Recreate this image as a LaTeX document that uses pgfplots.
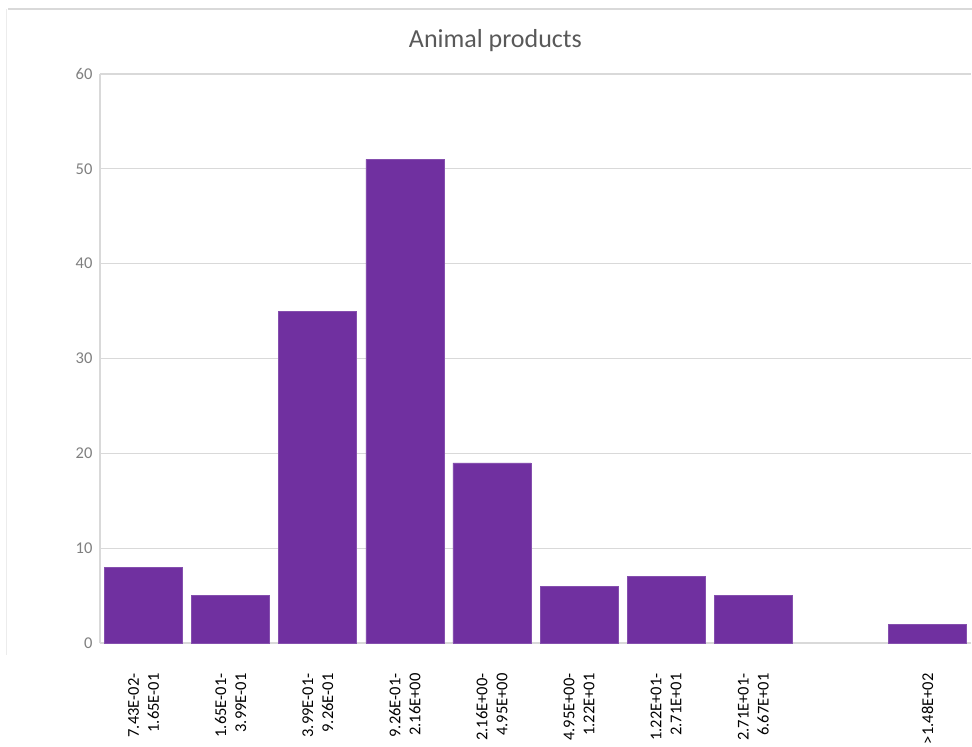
\documentclass[border=0pt]{standalone}
\usepackage{pgfplots}
\pgfplotsset{compat=1.18}
\usepackage{fontspec}
\setmainfont{Carlito}
\definecolor{barpurple}{HTML}{7030A0}
\definecolor{gridgray}{HTML}{D9D9D9}
\definecolor{ticktext}{HTML}{7F7F7F}
\definecolor{titletext}{HTML}{595959}
\begin{document}
\begin{tikzpicture}[x=1pt,y=1pt]
\useasboundingbox (0,0) rectangle (972,747);
% chart area frame (top and left edges)
\draw[gridgray, line width=1.2pt] (8,738) -- (972,738);
\draw[gridgray!50, line width=1pt] (6,738) -- (6,92);
\begin{axis}[
  at={(100pt,104pt)}, anchor=south west,
  scale only axis, width=871pt, height=569pt,
  xmin=-0.5, xmax=9.5, ymin=0, ymax=60,
  ytick={0,10,...,60},
  xtick={0,...,9},
  xticklabels={{7.43E-02-\\1.65E-01},{1.65E-01-\\3.99E-01},{3.99E-01-\\9.26E-01},{9.26E-01-\\2.16E+00},{2.16E+00-\\4.95E+00},{4.95E+00-\\1.22E+01},{1.22E+01-\\2.71E+01},{2.71E+01-\\6.67E+01},{},{>1.48E+02}},
  axis x line*=bottom, axis y line*=left,
  axis line style={gridgray, line width=1.2pt, -},
  major tick length=0pt,
  ymajorgrids, grid style={gridgray, line width=1.2pt},
  yticklabel style={font=\fontsize{16.5}{18}\selectfont, text=ticktext, xshift=-4pt},
  xticklabel style={yshift=-27pt, rotate=90, anchor=east, align=right, font=\fontsize{16.5}{20}\selectfont, text=black},
  /pgf/number format/assume math mode=true,
  ybar, bar width=0.895, bar shift=0pt,
  title={Animal products},
  title style={font=\fontsize{26}{30}\selectfont, text=titletext, at={(0.454,1)}, anchor=south, yshift=13pt},
]
\addplot[fill=barpurple, draw=barpurple!85!white, line width=0.6pt] coordinates {
  (0,8) (1,5) (2,35) (3,51) (4,19) (5,6) (6,7) (7,5) (9,2)
};
\end{axis}
\end{tikzpicture}
\end{document}
